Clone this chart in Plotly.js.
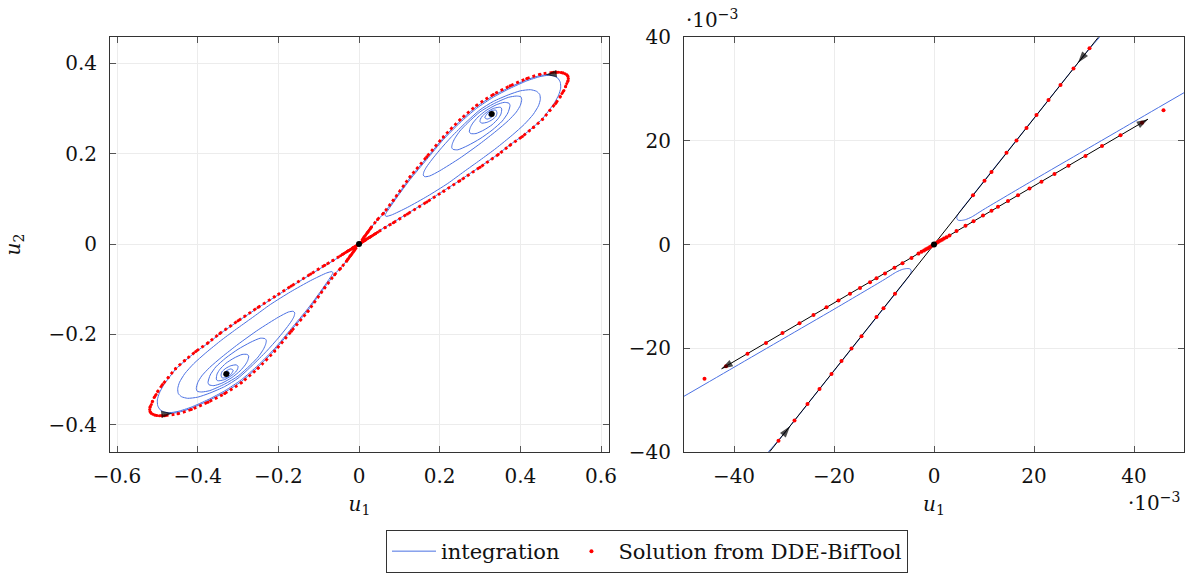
<!DOCTYPE html>
<html>
<head>
<meta charset="utf-8">
<script src="https://cdn.plot.ly/plotly-3.0.1.min.js"></script>
<style>html,body{margin:0;padding:0;background:#fff;}#chart{width:1188px;height:573px;}</style>
</head>
<body>
<div id="chart"></div>
<script>
// ---- integration trajectory, upper lobe (u1, u2) ----
const blueUpX = [0.475,0.4488,0.4158,0.3744,0.333,0.2918,0.2504,0.209,0.1678,0.1265,0.085,0.0603,0.046,0.032,0.02,0.012,0.007,0.0052,0.0046,0.0046,0.0049,0.0055,0.0063,0.0075,0.01,0.02,0.03,0.04,0.05,
0.065,0.085,0.12,0.168,0.21,0.25,0.3,0.345,0.3744,0.405,0.4322,0.455,0.472,0.485,0.495,0.5,0.499,0.493,0.482,0.47,0.4488,0.4158,0.3744,0.333,0.2918,0.2504,0.209,0.1678,0.1265,0.095,0.077,0.068,0.0645,
0.067,0.08,0.12,0.17,0.22,0.26,0.3,0.34,0.38,0.41,0.432,0.445,0.4495,0.448,0.44,0.425,0.4,0.37,0.333,0.3,0.265,0.23,0.2,0.18,0.167,0.161,0.1594,
0.163,0.175,0.2,0.25,0.3,0.34,0.37,0.39,0.4,0.4034,0.401,0.39,0.37,0.333,0.3,0.27,0.25,0.237,0.2315,0.2299,
0.233,0.245,0.27,0.3,0.33,0.355,0.369,0.3744,0.372,0.36,0.34,0.315,0.295,0.282,0.276,0.2735,
0.277,0.29,0.31,0.33,0.345,0.352,0.3538,0.351,0.345,0.333,0.318,0.306,0.301,0.3,
0.305,0.318,0.33,0.34,0.342,0.339,0.328,0.318,0.312,
0.318,0.33,0.3355,0.329,0.321,0.324,0.331,0.329];
const blueUpY = [0.3755,0.3727,0.3635,0.3472,0.3283,0.3043,0.2723,0.2345,0.1905,0.1465,0.0955,0.0667,0.053,0.0388,0.0244,0.0147,0.0086,0.0064,0.0055,0.0049,0.00468,0.00465,0.0048,0.0053,0.0068,0.0125,0.0181,0.0237,0.0293,
0.0375,0.048,0.0675,0.094,0.118,0.141,0.171,0.199,0.2198,0.239,0.259,0.2775,0.297,0.313,0.33,0.345,0.358,0.367,0.3722,0.3735,0.3705,0.361,0.3445,0.325,0.3005,0.2685,0.231,0.187,0.1425,0.1045,0.0815,0.0695,0.064,
0.0612,0.064,0.081,0.106,0.134,0.16,0.1856,0.212,0.241,0.265,0.287,0.306,0.32,0.331,0.338,0.3415,0.339,0.33,0.3155,0.297,0.269,0.238,0.208,0.186,0.17,0.16,0.1525,
0.149,0.1505,0.162,0.19,0.222,0.25,0.273,0.292,0.307,0.3198,0.326,0.3275,0.3245,0.31,0.2925,0.2685,0.25,0.233,0.222,0.2137,
0.2095,0.2085,0.218,0.233,0.252,0.272,0.29,0.3065,0.3115,0.3135,0.308,0.2955,0.281,0.2675,0.258,0.2482,
0.2445,0.2445,0.2525,0.264,0.2775,0.288,0.299,0.3025,0.3025,0.3,0.2925,0.2835,0.2765,0.2703,
0.2675,0.2695,0.275,0.283,0.291,0.2965,0.295,0.289,0.2795,
0.2765,0.2815,0.2895,0.2915,0.2865,0.2825,0.286,0.288];

// ---- integration trajectory, lower lobe ----
const blueLoX = [-0.475,-0.4488,-0.4158,-0.3744,-0.333,-0.2918,-0.2504,-0.209,-0.1678,-0.1265,-0.085,-0.0603,-0.046,-0.032,-0.02,-0.012,-0.007,-0.0052,-0.0046,-0.0046,-0.0049,-0.0055,-0.0063,-0.0075,-0.01,-0.02,-0.03,-0.04,-0.05,
-0.065,-0.085,-0.12,-0.168,-0.21,-0.25,-0.3,-0.345,-0.3744,-0.405,-0.4322,-0.455,-0.472,-0.485,-0.495,-0.5,-0.499,-0.493,-0.482,-0.47,-0.4488,-0.4158,-0.3744,-0.333,-0.2918,-0.2504,-0.209,-0.1678,-0.1265,-0.095,-0.077,-0.068,-0.0645,
-0.067,-0.08,-0.12,-0.17,-0.22,-0.26,-0.3,-0.34,-0.38,-0.41,-0.432,-0.445,-0.4495,-0.448,-0.44,-0.425,-0.4,-0.37,-0.333,-0.3,-0.265,-0.23,-0.2,-0.18,-0.167,-0.161,-0.1594,
-0.163,-0.175,-0.2,-0.25,-0.3,-0.34,-0.37,-0.39,-0.4,-0.4034,-0.401,-0.39,-0.37,-0.333,-0.3,-0.27,-0.25,-0.237,-0.2315,-0.2299,
-0.233,-0.245,-0.27,-0.3,-0.33,-0.355,-0.369,-0.3744,-0.372,-0.36,-0.34,-0.315,-0.295,-0.282,-0.276,-0.2735,
-0.277,-0.29,-0.31,-0.33,-0.345,-0.352,-0.3538,-0.351,-0.345,-0.333,-0.318,-0.306,-0.301,-0.3,
-0.305,-0.318,-0.33,-0.34,-0.342,-0.339,-0.328,-0.318,-0.312,
-0.318,-0.33,-0.3355,-0.329,-0.321,-0.324,-0.331,-0.329];
const blueLoY = [-0.3755,-0.3727,-0.3635,-0.3472,-0.3283,-0.3043,-0.2723,-0.2345,-0.1905,-0.1465,-0.0955,-0.0667,-0.053,-0.0388,-0.0244,-0.0147,-0.0086,-0.0064,-0.0055,-0.0049,-0.00468,-0.00465,-0.0048,-0.0053,-0.0068,-0.0125,-0.0181,-0.0237,-0.0293,
-0.0375,-0.048,-0.0675,-0.094,-0.118,-0.141,-0.171,-0.199,-0.2198,-0.239,-0.259,-0.2775,-0.297,-0.313,-0.33,-0.345,-0.358,-0.367,-0.3722,-0.3735,-0.3705,-0.361,-0.3445,-0.325,-0.3005,-0.2685,-0.231,-0.187,-0.1425,-0.1045,-0.0815,-0.0695,-0.064,
-0.0612,-0.064,-0.081,-0.106,-0.134,-0.16,-0.1856,-0.212,-0.241,-0.265,-0.287,-0.306,-0.32,-0.331,-0.338,-0.3415,-0.339,-0.33,-0.3155,-0.297,-0.269,-0.238,-0.208,-0.186,-0.17,-0.16,-0.1525,
-0.149,-0.1505,-0.162,-0.19,-0.222,-0.25,-0.273,-0.292,-0.307,-0.3198,-0.326,-0.3275,-0.3245,-0.31,-0.2925,-0.2685,-0.25,-0.233,-0.222,-0.2137,
-0.2095,-0.2085,-0.218,-0.233,-0.252,-0.272,-0.29,-0.3065,-0.3115,-0.3135,-0.308,-0.2955,-0.281,-0.2675,-0.258,-0.2482,
-0.2445,-0.2445,-0.2525,-0.264,-0.2775,-0.288,-0.299,-0.3025,-0.3025,-0.3,-0.2925,-0.2835,-0.2765,-0.2703,
-0.2675,-0.2695,-0.275,-0.283,-0.291,-0.2965,-0.295,-0.289,-0.2795,
-0.2765,-0.2815,-0.2895,-0.2915,-0.2865,-0.2825,-0.286,-0.288];

// ---- DDE-BifTool solution points (homoclinic orbit), upper lobe ----
const solUpX = [0.0004,0.0008,0.0012,0.0016,0.002,0.0025,0.0031,0.0045,0.0063,0.0079,0.0098,0.0115,0.0128,0.0148,0.0168,0.0191,0.0215,0.0241,0.0269,0.0303,0.0336,0.0373,0.0416,0.0459,
0.065,0.085,0.12,0.168,0.21,0.25,0.3,0.345,0.3744,0.405,0.4322,0.455,0.4736,0.4874,0.4984,0.503,0.508,0.512,0.515,0.518,0.519,0.518,0.515,0.511,0.5066,0.501,0.495,0.488,0.4818,
0.4488,0.4158,0.3744,0.333,0.2918,0.2504,0.209,0.1678,0.1265,0.085,0.0603,0.046,
0.0311,0.0279,0.0253,0.0229,0.0205,0.0185,0.0165,0.0145,0.0115,0.0101,0.0078];
const solUpY = [0.00023,0.00046,0.0007,0.0009,0.00115,0.0014,0.00175,0.0026,0.0036,0.0045,0.0056,0.0065,0.0073,0.0084,0.0095,0.0108,0.0121,0.0136,0.0152,0.0171,0.019,0.0211,0.0235,0.0259,
0.0365,0.047,0.0665,0.093,0.117,0.14,0.17,0.198,0.2188,0.238,0.2579,0.276,0.2961,0.311,0.3255,0.333,0.34,0.348,0.3551,0.361,0.3662,0.371,0.3745,0.377,0.3785,0.3795,0.38,0.3802,0.38,
0.3757,0.3662,0.35,0.331,0.307,0.275,0.237,0.193,0.1487,0.097,0.0678,0.0543,
0.0379,0.034,0.0308,0.0279,0.025,0.0225,0.0201,0.0177,0.014,0.0123,0.0095];

// ---- DDE-BifTool solution points, lower lobe ----
const solLoX = [-0.0004,-0.0008,-0.0012,-0.0016,-0.002,-0.0025,-0.0031,-0.0045,-0.0063,-0.0079,-0.0098,-0.0115,-0.0128,-0.0148,-0.0168,-0.0191,-0.0215,-0.0241,-0.0269,-0.0303,-0.0336,-0.0373,-0.0416,-0.0459,
-0.065,-0.085,-0.12,-0.168,-0.21,-0.25,-0.3,-0.345,-0.3744,-0.405,-0.4322,-0.455,-0.4736,-0.4874,-0.4984,-0.503,-0.508,-0.512,-0.515,-0.518,-0.519,-0.518,-0.515,-0.511,-0.5066,-0.501,-0.495,-0.488,-0.4818,
-0.4488,-0.4158,-0.3744,-0.333,-0.2918,-0.2504,-0.209,-0.1678,-0.1265,-0.085,-0.0603,-0.046,
-0.0311,-0.0279,-0.0253,-0.0229,-0.0205,-0.0185,-0.0165,-0.0145,-0.0115,-0.0101,-0.0078];
const solLoY = [-0.00023,-0.00046,-0.0007,-0.0009,-0.00115,-0.0014,-0.00175,-0.0026,-0.0036,-0.0045,-0.0056,-0.0065,-0.0073,-0.0084,-0.0095,-0.0108,-0.0121,-0.0136,-0.0152,-0.0171,-0.019,-0.0211,-0.0235,-0.0259,
-0.0365,-0.047,-0.0665,-0.093,-0.117,-0.14,-0.17,-0.198,-0.2188,-0.238,-0.2579,-0.276,-0.2961,-0.311,-0.3255,-0.333,-0.34,-0.348,-0.3551,-0.361,-0.3662,-0.371,-0.3745,-0.377,-0.3785,-0.3795,-0.38,-0.3802,-0.38,
-0.3757,-0.3662,-0.35,-0.331,-0.307,-0.275,-0.237,-0.193,-0.1487,-0.097,-0.0678,-0.0543,
-0.0379,-0.034,-0.0308,-0.0279,-0.025,-0.0225,-0.0201,-0.0177,-0.014,-0.0123,-0.0095];

// ---- equilibria ----
const eqX = [0, 0.329, -0.329];
const eqY = [0, 0.288, -0.288];

// ---- linear manifolds of the saddle (right panel) ----
const stableX = [-0.0345, 0, 0.0345];
const stableY = [-0.042, 0, 0.042];
const unstableX = [-0.0425, 0, 0.0428];
const unstableY = [-0.024, 0, 0.0242];

// ---- arrow locations: [previous point, arrow point] ----
const arrowsLeft = [
  {x: [0.48, 0.462], y: [0.3762, 0.3745]},
  {x: [-0.48, -0.462], y: [-0.3762, -0.3745]}
];
const arrowsRight = [
  {x: [0.035, 0.0428], y: [0.0198, 0.0242]},
  {x: [-0.035, -0.0425], y: [-0.0198, -0.024]},
  {x: [0.0345, 0.0288], y: [0.042, 0.0351]},
  {x: [-0.0345, -0.0288], y: [-0.042, -0.0351]}
];

// ---- tick labels ----
const leftXTicks = [-0.6, -0.4, -0.2, 0, 0.2, 0.4, 0.6];
const leftYTicks = [-0.4, -0.2, 0, 0.2, 0.4];
const rightTickVals = [-0.04, -0.02, 0, 0.02, 0.04];
const rightTickText = ['\u221240', '\u221220', '0', '20', '40'];

const BLUE = '#4a70e2';
const RED = '#ff0000';
const FONT = 'DejaVu Serif';

const traces = [];
// left panel
traces.push({x: blueUpX, y: blueUpY, xaxis: 'x', yaxis: 'y', mode: 'lines', name: 'integration',
  line: {color: BLUE, width: 1, shape: 'spline', smoothing: 0.6}, showlegend: true, hoverinfo: 'skip'});
traces.push({x: blueLoX, y: blueLoY, xaxis: 'x', yaxis: 'y', mode: 'lines',
  line: {color: BLUE, width: 1, shape: 'spline', smoothing: 0.6}, showlegend: false, hoverinfo: 'skip'});
[[solUpX, solUpY], [solLoX, solLoY]].forEach(function (s) {
  traces.push({x: s[0], y: s[1], xaxis: 'x', yaxis: 'y', mode: 'lines+markers',
    line: {color: RED, width: 2.8, dash: '2.8px,3px', shape: 'spline', smoothing: 0.6},
    marker: {color: RED, size: 3}, showlegend: false, hoverinfo: 'skip'});
});
arrowsLeft.forEach(function (a) {
  traces.push({x: a.x, y: a.y, xaxis: 'x', yaxis: 'y', mode: 'markers', showlegend: false, hoverinfo: 'skip',
    marker: {symbol: 'arrow', angleref: 'previous', size: [0, 12], color: '#000', line: {width: 0}}});
});
traces.push({x: eqX, y: eqY, xaxis: 'x', yaxis: 'y', mode: 'markers', showlegend: false, hoverinfo: 'skip',
  marker: {color: '#000', size: 6}});

// right panel
[[blueUpX, blueUpY], [blueLoX, blueLoY]].forEach(function (s) {
  traces.push({x: s[0], y: s[1], xaxis: 'x2', yaxis: 'y2', mode: 'lines',
    line: {color: BLUE, width: 1, shape: 'spline', smoothing: 0.6}, showlegend: false, hoverinfo: 'skip'});
});
traces.push({x: stableX, y: stableY, xaxis: 'x2', yaxis: 'y2', mode: 'lines', line: {color: '#000', width: 1},
  showlegend: false, hoverinfo: 'skip'});
traces.push({x: unstableX, y: unstableY, xaxis: 'x2', yaxis: 'y2', mode: 'lines', line: {color: '#000', width: 1},
  showlegend: false, hoverinfo: 'skip'});
traces.push({x: solUpX, y: solUpY, xaxis: 'x2', yaxis: 'y2', mode: 'markers', name: 'Solution from DDE-BifTool',
  marker: {color: RED, size: 4}, showlegend: true, hoverinfo: 'skip'});
traces.push({x: solLoX, y: solLoY, xaxis: 'x2', yaxis: 'y2', mode: 'markers',
  marker: {color: RED, size: 4}, showlegend: false, hoverinfo: 'skip'});
arrowsRight.forEach(function (a) {
  traces.push({x: a.x, y: a.y, xaxis: 'x2', yaxis: 'y2', mode: 'markers', showlegend: false, hoverinfo: 'skip',
    marker: {symbol: 'arrow', angleref: 'previous', size: [0, 12], color: '#000', line: {width: 0}}});
});
traces.push({x: [eqX[0]], y: [eqY[0]], xaxis: 'x2', yaxis: 'y2', mode: 'markers', showlegend: false, hoverinfo: 'skip',
  marker: {color: '#000', size: 6}});

const axisCommon = {
  showline: true, linecolor: '#333', linewidth: 1, mirror: 'ticks',
  ticks: 'inside', ticklen: 6, tickcolor: '#555', tickwidth: 1,
  showgrid: true, gridcolor: '#ececec', gridwidth: 1, zeroline: false,
  tickfont: {family: FONT, size: 20, color: '#111'}
};
const titleFont = {family: FONT, size: 20, color: '#111'};

const layout = {
  width: 1188, height: 573,
  margin: {l: 0, r: 0, t: 0, b: 0},
  paper_bgcolor: '#fff', plot_bgcolor: '#fff',
  showlegend: true,
  font: {family: FONT, size: 20, color: '#111'},
  xaxis: Object.assign({}, axisCommon, {domain: [110 / 1188, 609 / 1188], range: [-0.6174, 0.6198],
    tickvals: leftXTicks, anchor: 'y', ticklabelstandoff: 6,
    title: {text: '<i>u</i><sub>1</sub>', font: titleFont, standoff: 10}}),
  yaxis: Object.assign({}, axisCommon, {domain: [1 - 451.7 / 573, 1 - 37.3 / 573], range: [-0.4597, 0.4575],
    tickvals: leftYTicks, anchor: 'x', ticklabelstandoff: 8,
    title: {text: '<i>u</i><sub>2</sub>', font: titleFont, standoff: 22}}),
  xaxis2: Object.assign({}, axisCommon, {domain: [684 / 1188, 1184 / 1188], range: [-0.05, 0.05],
    tickvals: rightTickVals, ticktext: rightTickText, anchor: 'y2', ticklabelstandoff: 6,
    title: {text: '<i>u</i><sub>1</sub>', font: titleFont, standoff: 10}}),
  yaxis2: Object.assign({}, axisCommon, {domain: [1 - 451.7 / 573, 1 - 37.3 / 573], range: [-0.04, 0.04],
    tickvals: rightTickVals, ticktext: rightTickText, anchor: 'x2', ticklabelstandoff: 8}),
  legend: {orientation: 'h', x: 647 / 1188, xanchor: 'center', y: 1 - 530 / 573, yanchor: 'top',
    bordercolor: '#333', borderwidth: 1, bgcolor: '#fff',
    font: {family: FONT, size: 21, color: '#111'}, itemwidth: 44},
  annotations: [
    {xref: 'paper', yref: 'paper', x: 684 / 1188, y: 1 - 19 / 573, xanchor: 'left', yanchor: 'middle',
      text: '\u00b710<sup>\u22123</sup>', showarrow: false, font: {family: FONT, size: 20, color: '#111'}},
    {xref: 'paper', yref: 'paper', x: 1182 / 1188, y: 1 - 502 / 573, xanchor: 'right', yanchor: 'middle',
      text: '\u00b710<sup>\u22123</sup>', showarrow: false, font: {family: FONT, size: 20, color: '#111'}}
  ]
};

Plotly.newPlot('chart', traces, layout, {staticPlot: true});
</script>
</body>
</html>
